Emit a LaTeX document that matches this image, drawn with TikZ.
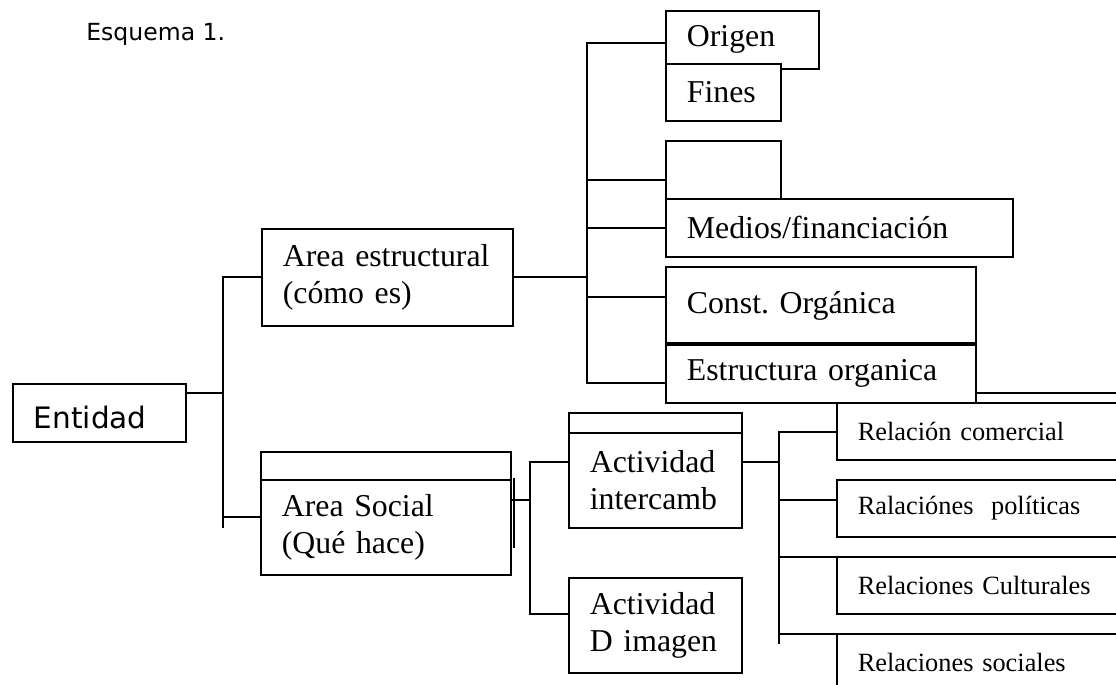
\documentclass[tikz,border=0pt]{standalone}
\usepackage{fontspec}
\setmainfont{Liberation Serif}
\newfontfamily\tahoma{DejaVu Sans}
\frenchspacing

\begin{document}
\begin{tikzpicture}[x=0.02cm,y=-0.02cm]
		\tikzset{caja/.style={draw,line width=1pt,anchor=north west,inner xsep=0.42cm,inner ysep=0pt,align=left,fill=white,font=\fontsize{18.1}{21}\selectfont}}
		\tikzset{cajarel/.style={caja,font=\fontsize{15}{18}\selectfont,text width=5.04cm,minimum height=1.14cm}}
		\tikzset{linea/.style={line width=1pt,line cap=rect}}
		\clip (0,0) rectangle (1116,685);
		\node[anchor=base west,inner sep=0pt,font=\fontsize{13.4}{16}\tahoma] (titulo) at (86,41) {Esquema 1.};
		% raiz
		\node[caja,font=\fontsize{16.8}{20}\tahoma,text width=2.62cm,text height=0.64cm,text depth=0pt,minimum height=1.16cm] (entidad) at (12,383) {Entidad};
		\node[caja,text width=4.18cm,minimum height=1.94cm] (estructural) at (261,228) {Area estructural\\(cómo es)};
		\node[caja,minimum width=5cm,minimum height=0.56cm] (socialtop) at (260,451) {};
		\node[caja,text width=4.16cm,minimum height=1.9cm] (social) at (260,479) {Area Social\\(Qué hace)};
		% area estructural
		\node[caja,text width=2.22cm,minimum height=1.16cm] (origen) at (665,10) {Origen};
		\node[caja,text width=1.46cm,minimum height=1.14cm] (fines) at (665,63) {Fines};
		\node[caja,minimum width=2.3cm,minimum height=1.16cm] (vacio) at (665,140) {};
		\node[caja,text width=6.1cm,minimum height=1.16cm] (medios) at (665,198) {Medios/financiación};
		\node[caja,text width=5.36cm,minimum height=1.56cm] (constitucion) at (665,266) {Const. Orgánica};
		\node[caja,text width=5.36cm,minimum height=1.16cm] (estructura) at (665,344) {Estructura organica};
		\draw[line width=2.2pt] (estructura.north west) -- (estructura.north east);
		% area social
		\node[caja,minimum width=3.46cm,minimum height=0.4cm] (intercambtop) at (568,412) {};
		\node[caja,text width=2.62cm,minimum height=1.9cm] (intercamb) at (568,432) {Actividad\\intercamb};
		\node[caja,text width=2.62cm,minimum height=1.9cm] (imagen) at (568,577) {Actividad\\D imagen};
		\node[cajarel] (comercial) at (836,402) {Relación comercial};
		\node[cajarel] (politicas) at (836,479) {Ralaciónes~ políticas};
		\node[cajarel] (culturales) at (836,556) {Relaciones Culturales};
		\node[cajarel] (sociales) at (836,633) {Relaciones sociales};
		\draw[linea] ([xshift=0.04cm]social.north east) -- ++(0,68);

		\coordinate (a0) at (223,393);
		\coordinate (a2) at (223,517);
		\coordinate (finA) at (223,527);
		\draw[linea] (estructural.west) -| (finA);
		\draw[linea] (entidad.east |- a0) -- (a0);
		\draw[linea] (social.west |- a2) -- (a2);

		\coordinate (b1) at (587,43);
		\coordinate (b2) at (587,180);
		\coordinate (b3) at (587,297);
		\coordinate (b4) at (587,383);
		\draw[linea] (b1) -- (b4);
		\draw[linea] (estructural.east) -- (estructural.east -| b1);
		\draw[linea] (b1) -- (origen.west |- b1);
		\draw[linea] (b2) -- (vacio.west |- b2);
		\draw[linea] (medios.west -| b1) -- (medios.west);
		\draw[linea] (b3) -- (constitucion.west |- b3);
		\draw[linea] (b4) -- (estructura.west |- b4);
		\coordinate (borde) at (1130,393);
		\draw[linea] (estructura.east |- borde) -- (borde);

		\coordinate (c0) at (530,500);
		\coordinate (c1) at (530,462);
		\coordinate (c2) at (530,614);
		\draw[linea] (c1) -- (c2);
		\draw[linea] (social.east |- c0) -- (c0);
		\draw[linea] (c1) -- (intercamb.west |- c1);
		\draw[linea] (c2) -- (imagen.west |- c2);

		\coordinate (d0) at (779,462);
		\coordinate (d1) at (779,432);
		\coordinate (d2) at (779,500);
		\coordinate (d3) at (779,557);
		\coordinate (d4) at (779,634);
		\coordinate (finD) at (779,643);
		\draw[linea] (d1) -- (finD);
		\draw[linea] (intercamb.east |- d0) -- (d0);
		\draw[linea] (d1) -- (comercial.west |- d1);
		\draw[linea] (d2) -- (politicas.west |- d2);
		\draw[linea] (d3) -- (culturales.west |- d3);
		\draw[linea] (d4) -- (sociales.west |- d4);
	\end{tikzpicture}
\end{document}
